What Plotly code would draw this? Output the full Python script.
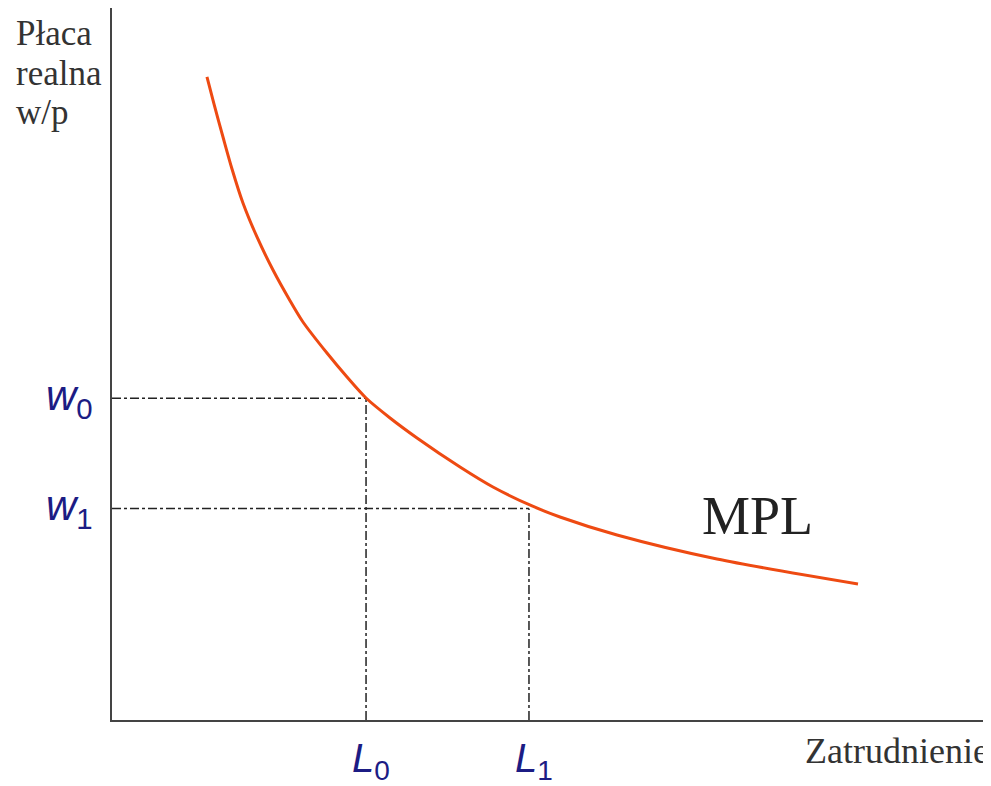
import plotly.graph_objs as go

mpl_x = [10.84, 11.64, 12.67, 13.70, 14.95, 16.55, 18.38, 20.21, 21.80, 24.54, 26.83,
         29.00, 31.74, 34.82, 39.73, 43.49, 47.95, 51.14, 57.65, 69.06, 85.16]
mpl_y = [90.31, 86.52, 81.88, 77.39, 72.61, 67.84, 63.20, 59.13, 55.90, 51.54, 48.17,
         45.22, 42.42, 39.61, 35.53, 32.72, 30.06, 28.51, 25.98, 22.61, 19.10]

# equilibrium points
L_vals = [29.0, 47.6]
w_vals = [45.2, 29.7]
L_labels = ['<i>L</i><sub>0</sub>', '<i>L</i><sub>1</sub>']
w_labels = ['<i>w</i><sub>0</sub>', '<i>w</i><sub>1</sub>']
y_title_lines = ['Płaca', 'realna', 'w/p']

navy = '#1c1c84'
serif = 'Liberation Serif'
guide = dict(color='#222222', width=1.5, dash='dashdot')

data = []
for L, w in zip(L_vals, w_vals):
    data.append(go.Scatter(x=[0, L], y=[w, w], mode='lines', line=guide,
                           hoverinfo='skip', showlegend=False))
    data.append(go.Scatter(x=[L, L], y=[0, w], mode='lines', line=guide,
                           hoverinfo='skip', showlegend=False))

data.append(go.Scatter(x=mpl_x, y=mpl_y, mode='lines',
                       line=dict(color='#ee4a12', width=3, shape='spline', smoothing=0.8),
                       showlegend=False))

annotations = []
for line, yp in zip(y_title_lines, [0.9635, 0.9087, 0.8539]):
    annotations.append(dict(text=line, xref='paper', yref='paper', x=-0.112, y=yp,
                            xanchor='left', yanchor='middle', showarrow=False,
                            font=dict(family=serif, size=35, color='#333333')))
annotations += [
    dict(text='Zatrudnienie', xref='paper', yref='paper',
         x=1.003, y=-0.0435, xanchor='right', yanchor='middle',
         showarrow=False, font=dict(family=serif, size=36, color='#333333')),
    dict(text='MPL', xref='x', yref='y', x=73.7, y=28.7,
         showarrow=False, font=dict(family=serif, size=54, color='#222222')),
]
for w, lab in zip(w_vals, w_labels):
    annotations.append(dict(text=lab, xref='paper', yref='y', x=-0.019, y=w,
                            xanchor='right', yanchor='middle', showarrow=False,
                            font=dict(family='Liberation Sans', size=42, color=navy)))
for L, lab in zip(L_vals, L_labels):
    annotations.append(dict(text=lab, xref='x', yref='paper', x=L + 0.6, y=-0.058,
                            xanchor='center', yanchor='middle', showarrow=False,
                            font=dict(family='Liberation Sans', size=40, color=navy)))

layout = go.Layout(width=983, height=778,
                   margin=dict(l=104, r=3, t=0, b=66),
                   paper_bgcolor='white', plot_bgcolor='white',
                   xaxis=dict(range=[0, 100], showline=True, linecolor='#444444', linewidth=2,
                              showgrid=False, zeroline=False, showticklabels=False, ticks=''),
                   yaxis=dict(range=[0, 100], showline=True, linecolor='#444444', linewidth=2,
                              showgrid=False, zeroline=False, showticklabels=False, ticks=''),
                   annotations=annotations,
                   hovermode='closest')

fig = go.Figure(data=data, layout=layout)
fig.write_html('out.html')
